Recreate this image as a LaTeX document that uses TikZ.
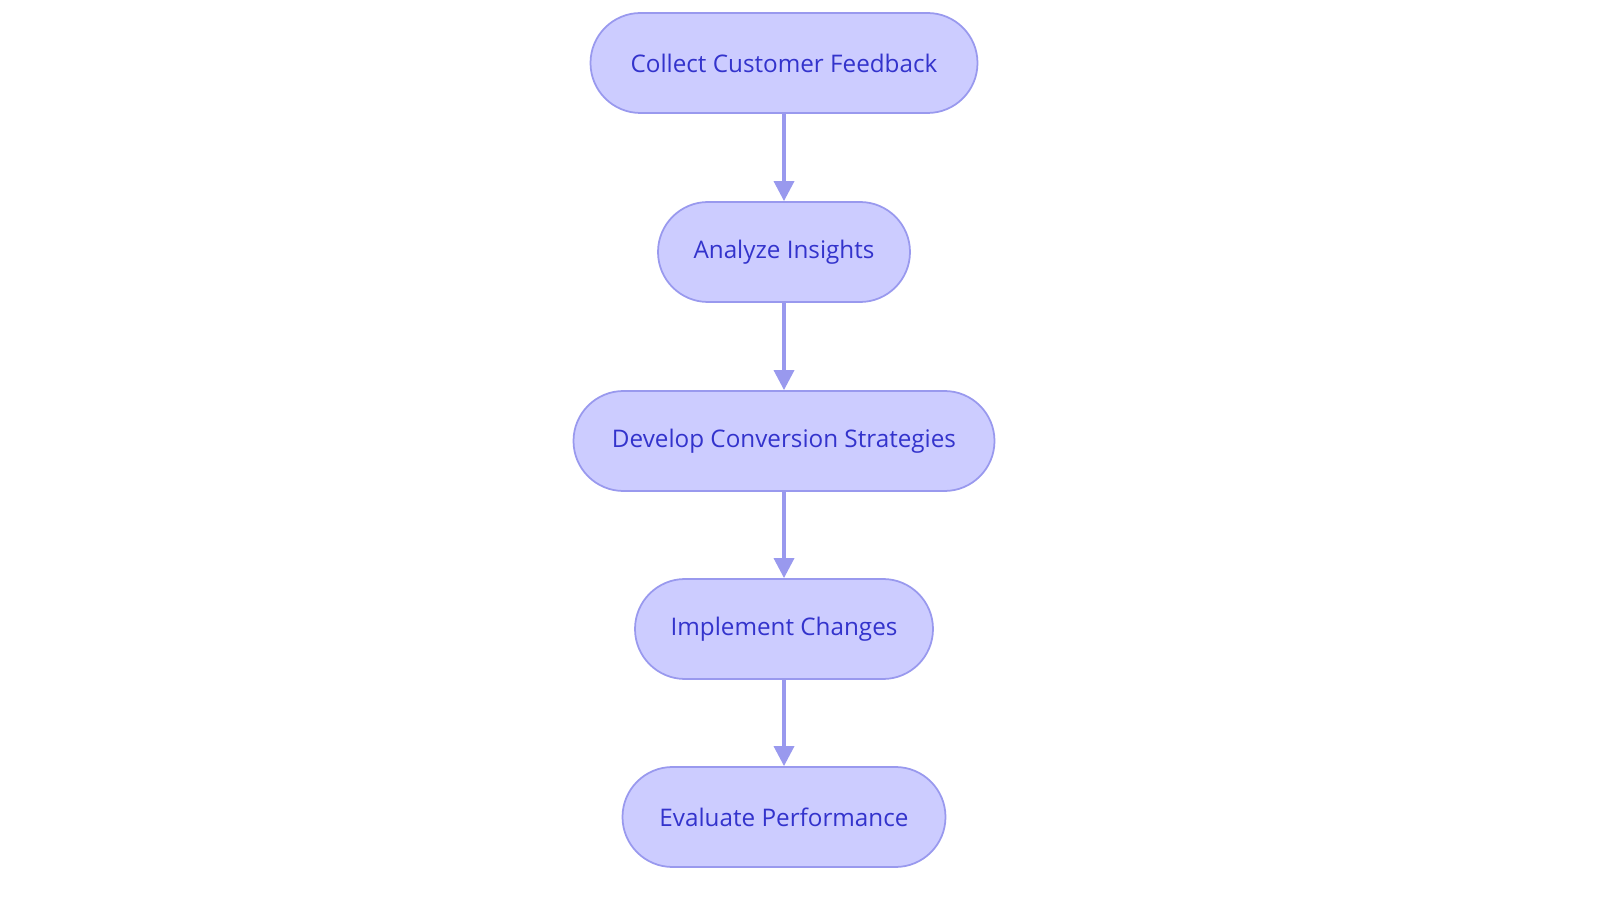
\documentclass[tikz,border=0pt]{standalone}
\usepackage{fontspec}
\setmainfont{Open Sans}
\usetikzlibrary{positioning,arrows.meta}
\definecolor{boxfill}{HTML}{CCCCFF}
\definecolor{boxdraw}{HTML}{9999EE}
\definecolor{boxtext}{HTML}{3333CC}
\tikzset{
	stepnode/.style={rectangle, rounded corners=1cm, draw=boxdraw, fill=boxfill, line width=1pt, minimum height=2cm, text=boxtext, font=\fontsize{13.8}{16}\selectfont},
	flowarrow/.style={-{Triangle[length=4mm, width=4mm]}, draw=boxdraw, line width=2pt}
}
\begin{document}
\begin{tikzpicture}
	\useasboundingbox (0,0) rectangle (32,18.06);
	\node[stepnode, minimum width=7.74cm] at (15.68,16.8) (collect) {Collect Customer Feedback};
	\node[stepnode, minimum width=5.04cm] at (15.68,13.02) (analyze) {Analyze Insights};
	\node[stepnode, minimum width=8.42cm] at (15.68,9.24) (develop) {Develop Conversion Strategies};
	\node[stepnode, minimum width=5.96cm] at (15.68,5.48) (implement) {Implement Changes};
	\node[stepnode, minimum width=6.46cm] at (15.68,1.72) (evaluate) {Evaluate Performance};
	\draw[flowarrow] (collect) -- (analyze);
	\draw[flowarrow] (analyze) -- (develop);
	\draw[flowarrow] (develop) -- (implement);
	\draw[flowarrow] (implement) -- (evaluate);
\end{tikzpicture}
\end{document}
